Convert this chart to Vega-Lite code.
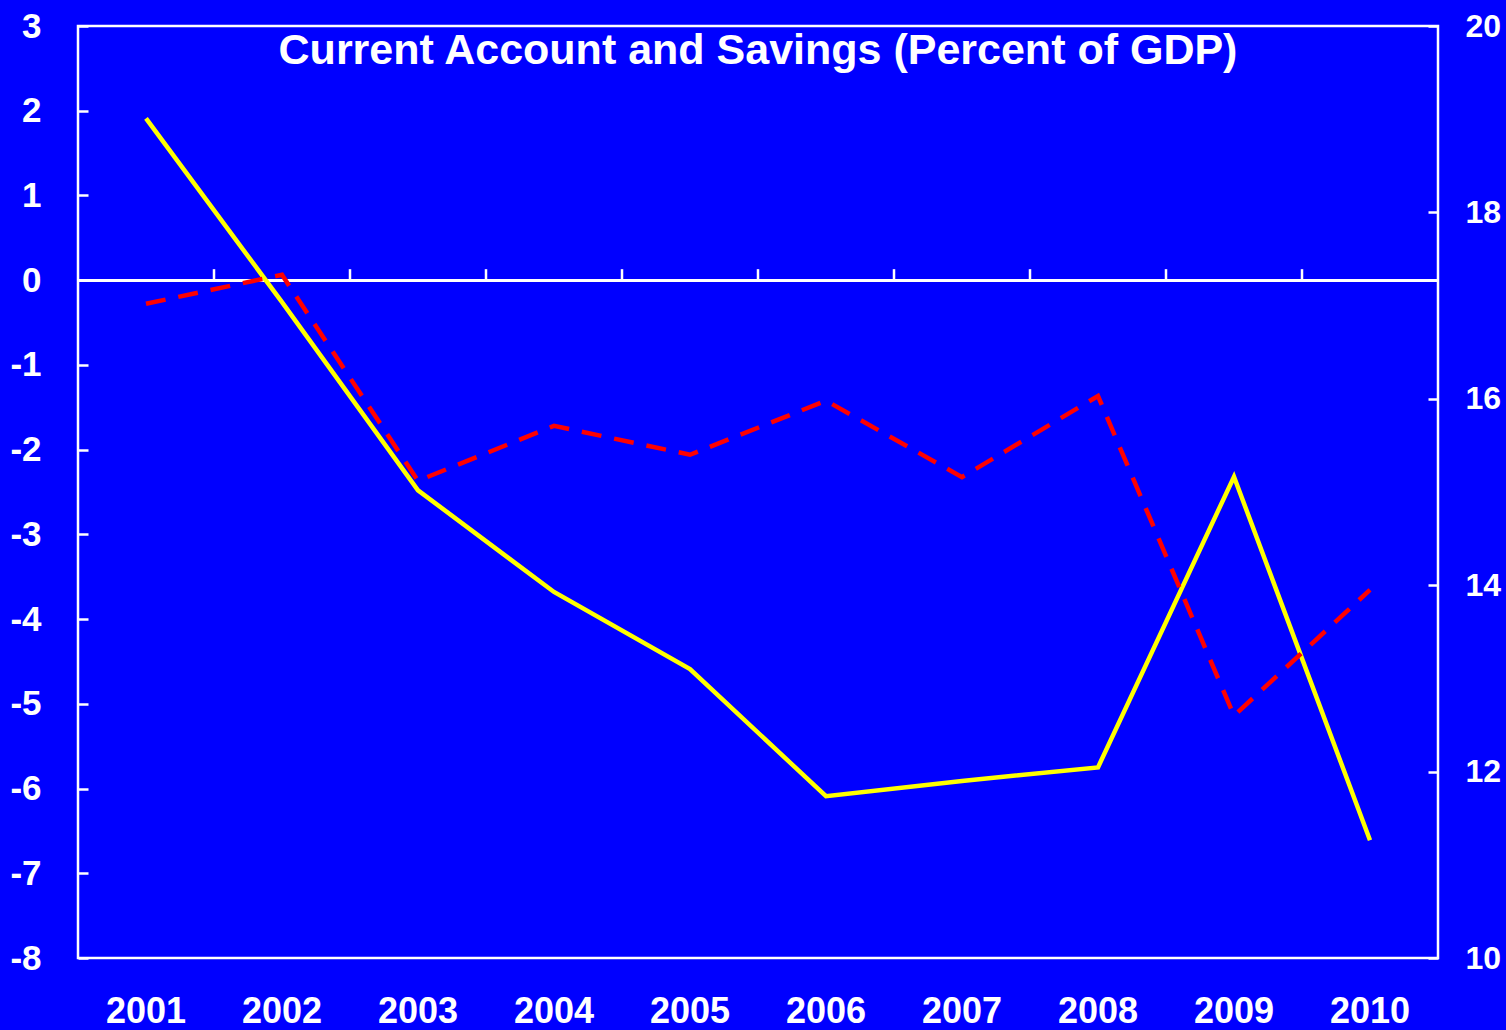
{
  "$schema": "https://vega.github.io/schema/vega-lite/v6.json",
  "width": 1360,
  "height": 932,
  "autosize": {"type": "none"},
  "padding": {"left": 78, "top": 26, "right": 68, "bottom": 72},
  "background": "#0000FF",
  "config": {
    "view": {"stroke": "white", "strokeWidth": 2.5},
    "axis": {
      "labelFont": "Liberation Sans",
      "labelFontWeight": "bold",
      "labelFontSize": 35,
      "labelColor": "white",
      "domain": false,
      "grid": false,
      "tickColor": "white",
      "tickWidth": 2.5,
      "title": null
    }
  },
  "data": {
    "values": [
      {"year": "2001", "ca": 1.91, "savings": 17.02},
      {"year": "2002", "ca": -0.26, "savings": 17.33},
      {"year": "2003", "ca": -2.48, "savings": 15.12},
      {"year": "2004", "ca": -3.68, "savings": 15.71},
      {"year": "2005", "ca": -4.59, "savings": 15.40},
      {"year": "2006", "ca": -6.09, "savings": 15.98},
      {"year": "2007", "ca": -5.91, "savings": 15.16},
      {"year": "2008", "ca": -5.75, "savings": 16.03},
      {"year": "2009", "ca": -2.32, "savings": 12.60},
      {"year": "2010", "ca": -6.61, "savings": 13.95}
    ]
  },
  "encoding": {
    "x": {
      "field": "year",
      "type": "ordinal",
      "scale": {"type": "band", "paddingInner": 0, "paddingOuter": 0},
      "axis": {"labelAngle": 0, "ticks": false, "labelPadding": 36, "labelBaseline": "top", "labelFontSize": 36}
    }
  },
  "layer": [
    {
      "layer": [
        {
          "mark": {"type": "rule", "color": "white", "strokeWidth": 2.5},
          "encoding": {
            "x": null,
            "y": {"datum": 0, "type": "quantitative"}
          }
        },
        {
          "transform": [{"filter": "datum.year != '2001'"}],
          "mark": {"type": "rule", "color": "white", "strokeWidth": 2.5},
          "encoding": {
            "x": {"field": "year", "type": "ordinal", "bandPosition": 0},
            "y": {"datum": 0, "type": "quantitative"},
            "y2": {"datum": 0.13}
          }
        },
        {
          "mark": {"type": "line", "color": "#FFFF00", "strokeWidth": 4.5},
          "encoding": {
            "y": {
              "field": "ca",
              "type": "quantitative",
              "scale": {"domain": [-8, 3], "nice": false, "zero": false},
              "axis": {"orient": "left", "values": [-8, -7, -6, -5, -4, -3, -2, -1, 0, 1, 2, 3], "labelExpr": "'' + datum.value", "tickSize": -10, "labelPadding": 47, "labelAlign": "right"}
            }
          }
        },
        {
          "data": {"values": [{"label": "Current Account and Savings (Percent of GDP)"}]},
          "mark": {"type": "text", "color": "white", "font": "Liberation Sans", "fontWeight": "bold", "fontSize": 43, "align": "center", "baseline": "top", "dy": 4},
          "encoding": {
            "x": {"datum": "2006", "type": "ordinal", "bandPosition": 0},
            "y": {"datum": 3, "type": "quantitative"},
            "text": {"field": "label", "type": "nominal"}
          }
        }
      ]
    },
    {
      "mark": {"type": "line", "color": "#FF0000", "strokeWidth": 4.5, "strokeDash": [20, 13]},
      "encoding": {
        "y": {
          "field": "savings",
          "type": "quantitative",
          "scale": {"domain": [10, 20], "nice": false, "zero": false},
          "axis": {"orient": "right", "values": [10, 12, 14, 16, 18, 20], "labelExpr": "'' + datum.value", "labelFontSize": 32, "tickSize": -10, "labelPadding": 37, "labelAlign": "left"}
        }
      }
    }
  ],
  "resolve": {"scale": {"y": "independent"}}
}
